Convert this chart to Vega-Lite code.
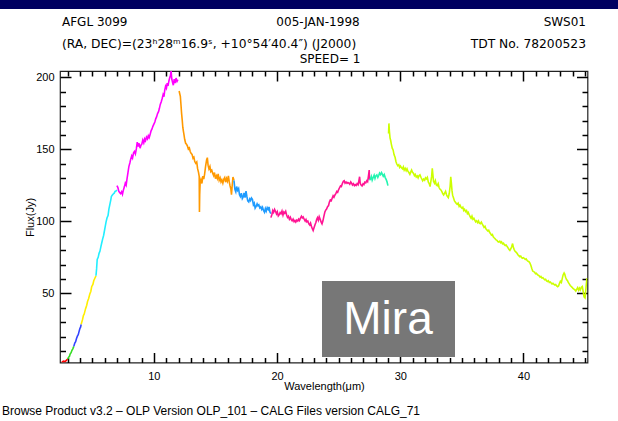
{
  "$schema": "https://vega.github.io/schema/vega-lite/v6.json",
  "width": 527.5,
  "height": 291.5,
  "autosize": "none",
  "padding": {"left": 60, "top": 71, "right": 30.5, "bottom": 58.5},
  "background": "white",
  "config": {
    "view": {"stroke": "#222222", "strokeWidth": 1.2},
    "axis": {
      "zindex": 1,
      "domain": false,
      "grid": false,
      "tickColor": "black",
      "tickWidth": 1.5,
      "labelColor": "black",
      "labelFont": "Liberation Sans",
      "labelFontSize": 11,
      "titleFont": "Liberation Sans",
      "titleFontSize": 11,
      "titleFontWeight": "normal",
      "titleColor": "black"
    },
    "text": {"font": "DejaVu Sans", "fill": "black"}
  },
  "datasets": {
    "sws": [
      {"wl": 2.52, "f": 2.1, "band": "1AB"}, {"wl": 2.65, "f": 2.9, "band": "1AB"}, {"wl": 2.8, "f": 2.6, "band": "1AB"}, {"wl": 2.9, "f": 3.6, "band": "1AB"}, {"wl": 3.0, "f": 4.4, "band": "1AB"},
      {"wl": 3.0, "f": 4.4, "band": "1D"}, {"wl": 3.08, "f": 5.6, "band": "1D"}, {"wl": 3.15, "f": 6.3, "band": "1D"}, {"wl": 3.2, "f": 7.8, "band": "1D"}, {"wl": 3.28, "f": 8.8, "band": "1D"}, {"wl": 3.35, "f": 10.5, "band": "1D"}, {"wl": 3.42, "f": 11.5, "band": "1D"}, {"wl": 3.5, "f": 13.2, "band": "1D"},
      {"wl": 3.5, "f": 13.2, "band": "1E"}, {"wl": 3.58, "f": 15.5, "band": "1E"}, {"wl": 3.65, "f": 16.4, "band": "1E"}, {"wl": 3.72, "f": 18.6, "band": "1E"}, {"wl": 3.8, "f": 20.5, "band": "1E"}, {"wl": 3.86, "f": 21.3, "band": "1E"}, {"wl": 3.93, "f": 23.6, "band": "1E"}, {"wl": 4.0, "f": 25.8, "band": "1E"}, {"wl": 4.05, "f": 26.5, "band": "1E"}, {"wl": 4.1, "f": 28.5, "band": "1E"},
      {"wl": 4.1, "f": 28.5, "band": "2A"}, {"wl": 4.2, "f": 31.5, "band": "2A"}, {"wl": 4.28, "f": 34.6, "band": "2A"}, {"wl": 4.35, "f": 35.8, "band": "2A"}, {"wl": 4.45, "f": 39.2, "band": "2A"}, {"wl": 4.55, "f": 41.8, "band": "2A"}, {"wl": 4.62, "f": 44.5, "band": "2A"}, {"wl": 4.7, "f": 46.3, "band": "2A"}, {"wl": 4.8, "f": 49.5, "band": "2A"}, {"wl": 4.88, "f": 51.3, "band": "2A"}, {"wl": 4.95, "f": 54.6, "band": "2A"}, {"wl": 5.05, "f": 56.2, "band": "2A"}, {"wl": 5.12, "f": 58.8, "band": "2A"}, {"wl": 5.2, "f": 60.3, "band": "2A"}, {"wl": 5.3, "f": 62.2, "band": "2A"},
      {"wl": 5.3, "f": 62.2, "band": "2B"}, {"wl": 5.35, "f": 67, "band": "2B"}, {"wl": 5.4, "f": 73.5, "band": "2B"}, {"wl": 5.48, "f": 75, "band": "2B"}, {"wl": 5.55, "f": 77.8, "band": "2B"}, {"wl": 5.62, "f": 79.2, "band": "2B"}, {"wl": 5.7, "f": 82.5, "band": "2B"}, {"wl": 5.78, "f": 85.5, "band": "2B"}, {"wl": 5.85, "f": 88, "band": "2B"}, {"wl": 5.92, "f": 90.2, "band": "2B"}, {"wl": 6.0, "f": 94, "band": "2B"}, {"wl": 6.05, "f": 96.3, "band": "2B"}, {"wl": 6.12, "f": 99.6, "band": "2B"}, {"wl": 6.2, "f": 102.5, "band": "2B"}, {"wl": 6.28, "f": 104, "band": "2B"}, {"wl": 6.35, "f": 108.5, "band": "2B"}, {"wl": 6.42, "f": 111.5, "band": "2B"}, {"wl": 6.5, "f": 114.8, "band": "2B"}, {"wl": 6.55, "f": 117.2, "band": "2B"}, {"wl": 6.62, "f": 118.2, "band": "2B"}, {"wl": 6.7, "f": 119, "band": "2B"}, {"wl": 6.78, "f": 119.6, "band": "2B"}, {"wl": 6.85, "f": 120.8, "band": "2B"}, {"wl": 6.92, "f": 121, "band": "2B"}, {"wl": 7.0, "f": 121.8, "band": "2B"},
      {"wl": 7.0, "f": 124.8, "band": "2C"}, {"wl": 7.08, "f": 123.5, "band": "2C"}, {"wl": 7.15, "f": 121, "band": "2C"}, {"wl": 7.22, "f": 120, "band": "2C"}, {"wl": 7.3, "f": 119.2, "band": "2C"}, {"wl": 7.38, "f": 120.5, "band": "2C"}, {"wl": 7.45, "f": 118.8, "band": "2C"}, {"wl": 7.52, "f": 121.5, "band": "2C"}, {"wl": 7.6, "f": 123.8, "band": "2C"}, {"wl": 7.68, "f": 126.5, "band": "2C"}, {"wl": 7.75, "f": 125.2, "band": "2C"}, {"wl": 7.82, "f": 129.5, "band": "2C"}, {"wl": 7.9, "f": 134, "band": "2C"}, {"wl": 7.97, "f": 138, "band": "2C"}, {"wl": 8.05, "f": 140.5, "band": "2C"}, {"wl": 8.12, "f": 143.2, "band": "2C"}, {"wl": 8.2, "f": 145.5, "band": "2C"}, {"wl": 8.27, "f": 144, "band": "2C"}, {"wl": 8.35, "f": 147.6, "band": "2C"}, {"wl": 8.42, "f": 148.5, "band": "2C"}, {"wl": 8.5, "f": 146.8, "band": "2C"}, {"wl": 8.58, "f": 150.5, "band": "2C"}, {"wl": 8.65, "f": 155, "band": "2C"}, {"wl": 8.72, "f": 152, "band": "2C"}, {"wl": 8.8, "f": 154.2, "band": "2C"}, {"wl": 8.88, "f": 150.8, "band": "2C"}, {"wl": 8.95, "f": 152.8, "band": "2C"}, {"wl": 9.02, "f": 153.6, "band": "2C"}, {"wl": 9.1, "f": 156.4, "band": "2C"}, {"wl": 9.18, "f": 154.5, "band": "2C"}, {"wl": 9.25, "f": 157.2, "band": "2C"}, {"wl": 9.32, "f": 156, "band": "2C"}, {"wl": 9.4, "f": 158.5, "band": "2C"}, {"wl": 9.48, "f": 157.3, "band": "2C"}, {"wl": 9.55, "f": 159.4, "band": "2C"}, {"wl": 9.62, "f": 158.2, "band": "2C"}, {"wl": 9.7, "f": 160.5, "band": "2C"}, {"wl": 9.78, "f": 163, "band": "2C"}, {"wl": 9.85, "f": 164.2, "band": "2C"}, {"wl": 9.92, "f": 166, "band": "2C"}, {"wl": 10.0, "f": 167.5, "band": "2C"}, {"wl": 10.08, "f": 169, "band": "2C"}, {"wl": 10.15, "f": 171.2, "band": "2C"}, {"wl": 10.22, "f": 172.5, "band": "2C"}, {"wl": 10.3, "f": 174.8, "band": "2C"}, {"wl": 10.38, "f": 176.2, "band": "2C"}, {"wl": 10.45, "f": 178.5, "band": "2C"}, {"wl": 10.52, "f": 181.2, "band": "2C"}, {"wl": 10.6, "f": 183, "band": "2C"}, {"wl": 10.68, "f": 185.5, "band": "2C"}, {"wl": 10.75, "f": 188, "band": "2C"}, {"wl": 10.82, "f": 186.5, "band": "2C"}, {"wl": 10.88, "f": 191, "band": "2C"}, {"wl": 10.95, "f": 193.8, "band": "2C"}, {"wl": 11.02, "f": 192.5, "band": "2C"}, {"wl": 11.08, "f": 196, "band": "2C"}, {"wl": 11.15, "f": 194, "band": "2C"}, {"wl": 11.22, "f": 197.5, "band": "2C"}, {"wl": 11.28, "f": 199.6, "band": "2C"}, {"wl": 11.35, "f": 201.5, "band": "2C"}, {"wl": 11.4, "f": 204.5, "band": "2C"}, {"wl": 11.45, "f": 199, "band": "2C"}, {"wl": 11.52, "f": 196.3, "band": "2C"}, {"wl": 11.58, "f": 194.5, "band": "2C"}, {"wl": 11.65, "f": 198.8, "band": "2C"}, {"wl": 11.72, "f": 196, "band": "2C"}, {"wl": 11.8, "f": 199.5, "band": "2C"}, {"wl": 11.88, "f": 197.2, "band": "2C"}, {"wl": 11.95, "f": 198.4, "band": "2C"},
      {"wl": 12.05, "f": 190.5, "band": "3A"}, {"wl": 12.1, "f": 188.6, "band": "3A"}, {"wl": 12.15, "f": 186.8, "band": "3A"}, {"wl": 12.2, "f": 181, "band": "3A"}, {"wl": 12.25, "f": 175, "band": "3A"}, {"wl": 12.3, "f": 170.5, "band": "3A"}, {"wl": 12.35, "f": 165.2, "band": "3A"}, {"wl": 12.4, "f": 162.5, "band": "3A"}, {"wl": 12.45, "f": 159.8, "band": "3A"}, {"wl": 12.5, "f": 157, "band": "3A"}, {"wl": 12.58, "f": 154.2, "band": "3A"}, {"wl": 12.65, "f": 153.5, "band": "3A"}, {"wl": 12.72, "f": 152.4, "band": "3A"}, {"wl": 12.8, "f": 150.2, "band": "3A"}, {"wl": 12.88, "f": 151, "band": "3A"}, {"wl": 12.95, "f": 148.5, "band": "3A"}, {"wl": 13.02, "f": 147.2, "band": "3A"}, {"wl": 13.1, "f": 146.5, "band": "3A"}, {"wl": 13.18, "f": 143.8, "band": "3A"}, {"wl": 13.25, "f": 144.5, "band": "3A"}, {"wl": 13.32, "f": 141.5, "band": "3A"}, {"wl": 13.4, "f": 140.3, "band": "3A"}, {"wl": 13.48, "f": 141.2, "band": "3A"}, {"wl": 13.55, "f": 136.6, "band": "3A"}, {"wl": 13.62, "f": 134.2, "band": "3A"}, {"wl": 13.68, "f": 131.2, "band": "3A"}, {"wl": 13.7, "f": 106.5, "band": "3A"}, {"wl": 13.72, "f": 118.5, "band": "3A"}, {"wl": 13.76, "f": 127.5, "band": "3A"}, {"wl": 13.82, "f": 129.2, "band": "3A"}, {"wl": 13.9, "f": 126.3, "band": "3A"}, {"wl": 13.98, "f": 131.5, "band": "3A"}, {"wl": 14.05, "f": 129.4, "band": "3A"}, {"wl": 14.12, "f": 132.8, "band": "3A"}, {"wl": 14.2, "f": 138.4, "band": "3A"}, {"wl": 14.28, "f": 142.6, "band": "3A"}, {"wl": 14.34, "f": 144.2, "band": "3A"}, {"wl": 14.4, "f": 139, "band": "3A"}, {"wl": 14.47, "f": 136.5, "band": "3A"}, {"wl": 14.55, "f": 138.2, "band": "3A"}, {"wl": 14.62, "f": 134.6, "band": "3A"}, {"wl": 14.7, "f": 135.5, "band": "3A"}, {"wl": 14.78, "f": 133.2, "band": "3A"}, {"wl": 14.85, "f": 131.8, "band": "3A"}, {"wl": 14.92, "f": 133.9, "band": "3A"}, {"wl": 15.0, "f": 129.6, "band": "3A"}, {"wl": 15.08, "f": 131.5, "band": "3A"}, {"wl": 15.15, "f": 129.8, "band": "3A"}, {"wl": 15.22, "f": 133, "band": "3A"}, {"wl": 15.3, "f": 128.5, "band": "3A"}, {"wl": 15.38, "f": 130.2, "band": "3A"}, {"wl": 15.45, "f": 127.4, "band": "3A"}, {"wl": 15.52, "f": 128.8, "band": "3A"}, {"wl": 15.6, "f": 126.5, "band": "3A"}, {"wl": 15.68, "f": 129.3, "band": "3A"}, {"wl": 15.75, "f": 130.4, "band": "3A"}, {"wl": 15.82, "f": 127.2, "band": "3A"}, {"wl": 15.9, "f": 129.8, "band": "3A"}, {"wl": 15.97, "f": 128, "band": "3A"}, {"wl": 16.05, "f": 131.6, "band": "3A"}, {"wl": 16.12, "f": 127.4, "band": "3A"}, {"wl": 16.18, "f": 124.8, "band": "3A"}, {"wl": 16.25, "f": 122.5, "band": "3A"}, {"wl": 16.3, "f": 118.6, "band": "3A"}, {"wl": 16.35, "f": 124, "band": "3A"}, {"wl": 16.42, "f": 130.8, "band": "3A"}, {"wl": 16.5, "f": 128.5, "band": "3A"},
      {"wl": 16.5, "f": 128.5, "band": "3C"}, {"wl": 16.58, "f": 122, "band": "3C"}, {"wl": 16.65, "f": 120.4, "band": "3C"}, {"wl": 16.72, "f": 124.2, "band": "3C"}, {"wl": 16.8, "f": 121.5, "band": "3C"}, {"wl": 16.88, "f": 122.8, "band": "3C"}, {"wl": 16.95, "f": 118.4, "band": "3C"}, {"wl": 17.02, "f": 117.2, "band": "3C"}, {"wl": 17.1, "f": 119.6, "band": "3C"}, {"wl": 17.18, "f": 115.8, "band": "3C"}, {"wl": 17.25, "f": 116.9, "band": "3C"}, {"wl": 17.32, "f": 119.8, "band": "3C"}, {"wl": 17.4, "f": 116.5, "band": "3C"}, {"wl": 17.48, "f": 121, "band": "3C"}, {"wl": 17.55, "f": 117.3, "band": "3C"}, {"wl": 17.62, "f": 114.2, "band": "3C"}, {"wl": 17.7, "f": 113.5, "band": "3C"}, {"wl": 17.78, "f": 115.6, "band": "3C"}, {"wl": 17.85, "f": 114.5, "band": "3C"}, {"wl": 17.92, "f": 116.2, "band": "3C"}, {"wl": 18.0, "f": 115.3, "band": "3C"}, {"wl": 18.08, "f": 111.5, "band": "3C"}, {"wl": 18.15, "f": 112.6, "band": "3C"}, {"wl": 18.22, "f": 109.2, "band": "3C"}, {"wl": 18.3, "f": 110.4, "band": "3C"}, {"wl": 18.38, "f": 112.2, "band": "3C"}, {"wl": 18.45, "f": 110.8, "band": "3C"}, {"wl": 18.52, "f": 111.5, "band": "3C"}, {"wl": 18.6, "f": 109.3, "band": "3C"}, {"wl": 18.68, "f": 110.1, "band": "3C"}, {"wl": 18.75, "f": 108.4, "band": "3C"}, {"wl": 18.82, "f": 109.8, "band": "3C"}, {"wl": 18.9, "f": 107.5, "band": "3C"}, {"wl": 18.98, "f": 106.3, "band": "3C"}, {"wl": 19.05, "f": 108.8, "band": "3C"}, {"wl": 19.12, "f": 107.1, "band": "3C"}, {"wl": 19.2, "f": 109.5, "band": "3C"}, {"wl": 19.28, "f": 108.2, "band": "3C"}, {"wl": 19.35, "f": 110, "band": "3C"}, {"wl": 19.42, "f": 106.5, "band": "3C"}, {"wl": 19.5, "f": 105.4, "band": "3C"},
      {"wl": 19.5, "f": 102.6, "band": "3D"}, {"wl": 19.58, "f": 104.8, "band": "3D"}, {"wl": 19.65, "f": 107.5, "band": "3D"}, {"wl": 19.72, "f": 106.2, "band": "3D"}, {"wl": 19.8, "f": 108.3, "band": "3D"}, {"wl": 19.88, "f": 106.8, "band": "3D"}, {"wl": 19.95, "f": 105.2, "band": "3D"}, {"wl": 20.02, "f": 106.6, "band": "3D"}, {"wl": 20.1, "f": 103.8, "band": "3D"}, {"wl": 20.18, "f": 104.7, "band": "3D"}, {"wl": 20.25, "f": 106.1, "band": "3D"}, {"wl": 20.32, "f": 105.3, "band": "3D"}, {"wl": 20.4, "f": 107.2, "band": "3D"}, {"wl": 20.48, "f": 104.4, "band": "3D"}, {"wl": 20.55, "f": 106.5, "band": "3D"}, {"wl": 20.62, "f": 105.7, "band": "3D"}, {"wl": 20.7, "f": 107, "band": "3D"}, {"wl": 20.78, "f": 104.2, "band": "3D"}, {"wl": 20.85, "f": 102.8, "band": "3D"}, {"wl": 20.92, "f": 103.6, "band": "3D"}, {"wl": 21.0, "f": 101.5, "band": "3D"}, {"wl": 21.08, "f": 102.8, "band": "3D"}, {"wl": 21.15, "f": 101.2, "band": "3D"}, {"wl": 21.22, "f": 100.4, "band": "3D"}, {"wl": 21.3, "f": 101.6, "band": "3D"}, {"wl": 21.38, "f": 99.8, "band": "3D"}, {"wl": 21.45, "f": 100.6, "band": "3D"}, {"wl": 21.52, "f": 99.5, "band": "3D"}, {"wl": 21.6, "f": 100.9, "band": "3D"}, {"wl": 21.68, "f": 100.2, "band": "3D"}, {"wl": 21.75, "f": 101.5, "band": "3D"}, {"wl": 21.82, "f": 100.6, "band": "3D"}, {"wl": 21.9, "f": 102.2, "band": "3D"}, {"wl": 21.98, "f": 103.5, "band": "3D"}, {"wl": 22.05, "f": 102.4, "band": "3D"}, {"wl": 22.12, "f": 103.1, "band": "3D"}, {"wl": 22.2, "f": 101.5, "band": "3D"}, {"wl": 22.28, "f": 100.2, "band": "3D"}, {"wl": 22.35, "f": 101.3, "band": "3D"}, {"wl": 22.42, "f": 99.6, "band": "3D"}, {"wl": 22.5, "f": 100.2, "band": "3D"}, {"wl": 22.58, "f": 98.2, "band": "3D"}, {"wl": 22.65, "f": 97.5, "band": "3D"}, {"wl": 22.72, "f": 98.8, "band": "3D"}, {"wl": 22.8, "f": 96.2, "band": "3D"}, {"wl": 22.88, "f": 94.5, "band": "3D"}, {"wl": 22.93, "f": 93.6, "band": "3D"}, {"wl": 23.0, "f": 95.5, "band": "3D"}, {"wl": 23.08, "f": 97.6, "band": "3D"}, {"wl": 23.15, "f": 99.2, "band": "3D"}, {"wl": 23.22, "f": 101.5, "band": "3D"}, {"wl": 23.28, "f": 102.6, "band": "3D"}, {"wl": 23.35, "f": 100.8, "band": "3D"}, {"wl": 23.42, "f": 103.2, "band": "3D"}, {"wl": 23.5, "f": 101.4, "band": "3D"}, {"wl": 23.58, "f": 99.5, "band": "3D"}, {"wl": 23.65, "f": 98.3, "band": "3D"}, {"wl": 23.72, "f": 100.2, "band": "3D"}, {"wl": 23.8, "f": 103.5, "band": "3D"}, {"wl": 23.88, "f": 106.5, "band": "3D"}, {"wl": 23.95, "f": 107.8, "band": "3D"}, {"wl": 24.02, "f": 108.6, "band": "3D"}, {"wl": 24.1, "f": 110.2, "band": "3D"}, {"wl": 24.18, "f": 111, "band": "3D"}, {"wl": 24.25, "f": 113.5, "band": "3D"}, {"wl": 24.32, "f": 114.8, "band": "3D"}, {"wl": 24.4, "f": 114.3, "band": "3D"}, {"wl": 24.48, "f": 116.2, "band": "3D"}, {"wl": 24.55, "f": 117.8, "band": "3D"}, {"wl": 24.62, "f": 116.8, "band": "3D"}, {"wl": 24.7, "f": 118.3, "band": "3D"}, {"wl": 24.78, "f": 119.4, "band": "3D"}, {"wl": 24.85, "f": 120.8, "band": "3D"}, {"wl": 24.92, "f": 120.2, "band": "3D"}, {"wl": 25.0, "f": 122.1, "band": "3D"}, {"wl": 25.08, "f": 123.5, "band": "3D"}, {"wl": 25.15, "f": 124.6, "band": "3D"}, {"wl": 25.22, "f": 124.2, "band": "3D"}, {"wl": 25.3, "f": 126.3, "band": "3D"}, {"wl": 25.38, "f": 127.8, "band": "3D"}, {"wl": 25.45, "f": 128.2, "band": "3D"}, {"wl": 25.52, "f": 126.5, "band": "3D"}, {"wl": 25.6, "f": 127.3, "band": "3D"}, {"wl": 25.68, "f": 126.4, "band": "3D"}, {"wl": 25.75, "f": 127, "band": "3D"}, {"wl": 25.82, "f": 126.6, "band": "3D"}, {"wl": 25.9, "f": 125.8, "band": "3D"}, {"wl": 25.98, "f": 127.4, "band": "3D"}, {"wl": 26.05, "f": 126.5, "band": "3D"}, {"wl": 26.12, "f": 125.2, "band": "3D"}, {"wl": 26.2, "f": 126.1, "band": "3D"}, {"wl": 26.28, "f": 124.8, "band": "3D"}, {"wl": 26.35, "f": 125.5, "band": "3D"}, {"wl": 26.42, "f": 124.9, "band": "3D"}, {"wl": 26.5, "f": 126.2, "band": "3D"}, {"wl": 26.58, "f": 125.4, "band": "3D"}, {"wl": 26.65, "f": 128.6, "band": "3D"}, {"wl": 26.7, "f": 131, "band": "3D"}, {"wl": 26.75, "f": 126.4, "band": "3D"}, {"wl": 26.82, "f": 125.2, "band": "3D"}, {"wl": 26.9, "f": 124.6, "band": "3D"}, {"wl": 26.98, "f": 126.1, "band": "3D"}, {"wl": 27.05, "f": 125.5, "band": "3D"}, {"wl": 27.12, "f": 127.2, "band": "3D"}, {"wl": 27.2, "f": 126.8, "band": "3D"}, {"wl": 27.28, "f": 128.2, "band": "3D"}, {"wl": 27.35, "f": 127.5, "band": "3D"}, {"wl": 27.42, "f": 131.6, "band": "3D"}, {"wl": 27.48, "f": 135.6, "band": "3D"}, {"wl": 27.5, "f": 129, "band": "3D"},
      {"wl": 27.5, "f": 128.5, "band": "3E"}, {"wl": 27.58, "f": 129.4, "band": "3E"}, {"wl": 27.65, "f": 131.2, "band": "3E"}, {"wl": 27.72, "f": 128.6, "band": "3E"}, {"wl": 27.8, "f": 130.5, "band": "3E"}, {"wl": 27.88, "f": 132.1, "band": "3E"}, {"wl": 27.95, "f": 129.8, "band": "3E"}, {"wl": 28.02, "f": 131.6, "band": "3E"}, {"wl": 28.1, "f": 132.3, "band": "3E"}, {"wl": 28.18, "f": 130.5, "band": "3E"}, {"wl": 28.25, "f": 131.8, "band": "3E"}, {"wl": 28.32, "f": 133.5, "band": "3E"}, {"wl": 28.4, "f": 132.4, "band": "3E"}, {"wl": 28.48, "f": 133.8, "band": "3E"}, {"wl": 28.55, "f": 132.6, "band": "3E"}, {"wl": 28.62, "f": 131.3, "band": "3E"}, {"wl": 28.7, "f": 132.5, "band": "3E"}, {"wl": 28.78, "f": 130.4, "band": "3E"}, {"wl": 28.85, "f": 129.2, "band": "3E"}, {"wl": 28.92, "f": 127.6, "band": "3E"}, {"wl": 29.0, "f": 124.8, "band": "3E"},
      {"wl": 29.05, "f": 161, "band": "4"}, {"wl": 29.08, "f": 168, "band": "4"}, {"wl": 29.12, "f": 162.5, "band": "4"}, {"wl": 29.17, "f": 158, "band": "4"}, {"wl": 29.22, "f": 156.3, "band": "4"}, {"wl": 29.28, "f": 153.5, "band": "4"}, {"wl": 29.35, "f": 150.8, "band": "4"}, {"wl": 29.42, "f": 149.6, "band": "4"}, {"wl": 29.5, "f": 146.2, "band": "4"}, {"wl": 29.58, "f": 144.5, "band": "4"}, {"wl": 29.65, "f": 141.6, "band": "4"}, {"wl": 29.72, "f": 139.8, "band": "4"}, {"wl": 29.8, "f": 138.6, "band": "4"}, {"wl": 29.88, "f": 139.3, "band": "4"}, {"wl": 29.95, "f": 137.5, "band": "4"}, {"wl": 30.02, "f": 138.4, "band": "4"}, {"wl": 30.1, "f": 137.2, "band": "4"}, {"wl": 30.18, "f": 136.5, "band": "4"}, {"wl": 30.25, "f": 137.8, "band": "4"}, {"wl": 30.32, "f": 135.6, "band": "4"}, {"wl": 30.4, "f": 136.8, "band": "4"}, {"wl": 30.48, "f": 135.2, "band": "4"}, {"wl": 30.55, "f": 136.5, "band": "4"}, {"wl": 30.62, "f": 134.8, "band": "4"}, {"wl": 30.7, "f": 133.9, "band": "4"}, {"wl": 30.78, "f": 132.6, "band": "4"}, {"wl": 30.85, "f": 134.2, "band": "4"}, {"wl": 30.92, "f": 135.6, "band": "4"}, {"wl": 31.0, "f": 134, "band": "4"}, {"wl": 31.08, "f": 133.2, "band": "4"}, {"wl": 31.15, "f": 131.8, "band": "4"}, {"wl": 31.22, "f": 132.6, "band": "4"}, {"wl": 31.3, "f": 130.8, "band": "4"}, {"wl": 31.38, "f": 131.5, "band": "4"}, {"wl": 31.45, "f": 130.2, "band": "4"}, {"wl": 31.52, "f": 131.7, "band": "4"}, {"wl": 31.6, "f": 132.3, "band": "4"}, {"wl": 31.68, "f": 130.6, "band": "4"}, {"wl": 31.75, "f": 129.4, "band": "4"}, {"wl": 31.82, "f": 128.2, "band": "4"}, {"wl": 31.9, "f": 129.3, "band": "4"}, {"wl": 31.98, "f": 128.6, "band": "4"}, {"wl": 32.05, "f": 130.2, "band": "4"}, {"wl": 32.12, "f": 129.5, "band": "4"}, {"wl": 32.2, "f": 130.6, "band": "4"}, {"wl": 32.28, "f": 127.2, "band": "4"}, {"wl": 32.35, "f": 126.3, "band": "4"}, {"wl": 32.42, "f": 124.2, "band": "4"}, {"wl": 32.48, "f": 127.5, "band": "4"}, {"wl": 32.55, "f": 131.4, "band": "4"}, {"wl": 32.6, "f": 136.8, "band": "4"}, {"wl": 32.65, "f": 132.4, "band": "4"}, {"wl": 32.7, "f": 127.8, "band": "4"}, {"wl": 32.78, "f": 126.5, "band": "4"}, {"wl": 32.85, "f": 128.2, "band": "4"}, {"wl": 32.92, "f": 125.4, "band": "4"}, {"wl": 33.0, "f": 124.8, "band": "4"}, {"wl": 33.08, "f": 126.2, "band": "4"}, {"wl": 33.15, "f": 123.5, "band": "4"}, {"wl": 33.22, "f": 122.4, "band": "4"}, {"wl": 33.3, "f": 121.8, "band": "4"}, {"wl": 33.38, "f": 120.6, "band": "4"}, {"wl": 33.45, "f": 119.2, "band": "4"}, {"wl": 33.52, "f": 118.3, "band": "4"}, {"wl": 33.6, "f": 119.6, "band": "4"}, {"wl": 33.68, "f": 120.8, "band": "4"}, {"wl": 33.75, "f": 118.6, "band": "4"}, {"wl": 33.82, "f": 117.4, "band": "4"}, {"wl": 33.9, "f": 116.5, "band": "4"}, {"wl": 33.98, "f": 119.5, "band": "4"}, {"wl": 34.05, "f": 124.5, "band": "4"}, {"wl": 34.1, "f": 131, "band": "4"}, {"wl": 34.15, "f": 126.6, "band": "4"}, {"wl": 34.2, "f": 121.5, "band": "4"}, {"wl": 34.25, "f": 118.2, "band": "4"}, {"wl": 34.32, "f": 116.4, "band": "4"}, {"wl": 34.4, "f": 114.2, "band": "4"}, {"wl": 34.48, "f": 113.3, "band": "4"}, {"wl": 34.55, "f": 112.4, "band": "4"}, {"wl": 34.62, "f": 111.8, "band": "4"}, {"wl": 34.7, "f": 112.6, "band": "4"}, {"wl": 34.78, "f": 110.4, "band": "4"}, {"wl": 34.85, "f": 111.3, "band": "4"}, {"wl": 34.92, "f": 110, "band": "4"}, {"wl": 35.0, "f": 109.2, "band": "4"}, {"wl": 35.08, "f": 109.8, "band": "4"}, {"wl": 35.15, "f": 107.6, "band": "4"}, {"wl": 35.22, "f": 108.4, "band": "4"}, {"wl": 35.3, "f": 106.8, "band": "4"}, {"wl": 35.38, "f": 107.5, "band": "4"}, {"wl": 35.45, "f": 105.4, "band": "4"}, {"wl": 35.52, "f": 106.2, "band": "4"}, {"wl": 35.6, "f": 104.6, "band": "4"}, {"wl": 35.68, "f": 103.2, "band": "4"}, {"wl": 35.75, "f": 102.2, "band": "4"}, {"wl": 35.82, "f": 103.6, "band": "4"}, {"wl": 35.9, "f": 101.4, "band": "4"}, {"wl": 35.98, "f": 102.1, "band": "4"}, {"wl": 36.05, "f": 100.8, "band": "4"}, {"wl": 36.12, "f": 99.6, "band": "4"}, {"wl": 36.2, "f": 100.4, "band": "4"}, {"wl": 36.28, "f": 99.2, "band": "4"}, {"wl": 36.35, "f": 100.3, "band": "4"}, {"wl": 36.42, "f": 98.8, "band": "4"}, {"wl": 36.5, "f": 98.4, "band": "4"}, {"wl": 36.58, "f": 99.5, "band": "4"}, {"wl": 36.65, "f": 98.2, "band": "4"}, {"wl": 36.72, "f": 97.2, "band": "4"}, {"wl": 36.8, "f": 95.8, "band": "4"}, {"wl": 36.88, "f": 96.6, "band": "4"}, {"wl": 36.95, "f": 94.8, "band": "4"}, {"wl": 37.02, "f": 94.2, "band": "4"}, {"wl": 37.1, "f": 93.4, "band": "4"}, {"wl": 37.18, "f": 93.9, "band": "4"}, {"wl": 37.25, "f": 92.4, "band": "4"}, {"wl": 37.32, "f": 91.6, "band": "4"}, {"wl": 37.4, "f": 90.4, "band": "4"}, {"wl": 37.48, "f": 90.9, "band": "4"}, {"wl": 37.55, "f": 89.3, "band": "4"}, {"wl": 37.62, "f": 88.6, "band": "4"}, {"wl": 37.7, "f": 87.9, "band": "4"}, {"wl": 37.78, "f": 87.1, "band": "4"}, {"wl": 37.85, "f": 86.8, "band": "4"}, {"wl": 37.92, "f": 86, "band": "4"}, {"wl": 38.0, "f": 85.6, "band": "4"}, {"wl": 38.08, "f": 86.2, "band": "4"}, {"wl": 38.15, "f": 85.2, "band": "4"}, {"wl": 38.22, "f": 85.8, "band": "4"}, {"wl": 38.3, "f": 84.4, "band": "4"}, {"wl": 38.38, "f": 84.9, "band": "4"}, {"wl": 38.45, "f": 83.8, "band": "4"}, {"wl": 38.52, "f": 83.2, "band": "4"}, {"wl": 38.6, "f": 83.6, "band": "4"}, {"wl": 38.68, "f": 82.5, "band": "4"}, {"wl": 38.75, "f": 81.6, "band": "4"}, {"wl": 38.82, "f": 80.6, "band": "4"}, {"wl": 38.9, "f": 79.8, "band": "4"}, {"wl": 38.98, "f": 81, "band": "4"}, {"wl": 39.05, "f": 82.6, "band": "4"}, {"wl": 39.12, "f": 84.6, "band": "4"}, {"wl": 39.18, "f": 82, "band": "4"}, {"wl": 39.25, "f": 80.4, "band": "4"}, {"wl": 39.32, "f": 79.2, "band": "4"}, {"wl": 39.4, "f": 78.6, "band": "4"}, {"wl": 39.48, "f": 77.8, "band": "4"}, {"wl": 39.55, "f": 76.8, "band": "4"}, {"wl": 39.62, "f": 76.2, "band": "4"}, {"wl": 39.7, "f": 75.5, "band": "4"}, {"wl": 39.78, "f": 75.9, "band": "4"}, {"wl": 39.85, "f": 74.8, "band": "4"}, {"wl": 39.92, "f": 74.4, "band": "4"}, {"wl": 40.0, "f": 74.8, "band": "4"}, {"wl": 40.08, "f": 74.2, "band": "4"}, {"wl": 40.15, "f": 73.5, "band": "4"}, {"wl": 40.22, "f": 73.9, "band": "4"}, {"wl": 40.3, "f": 72.8, "band": "4"}, {"wl": 40.38, "f": 72.3, "band": "4"}, {"wl": 40.45, "f": 72, "band": "4"}, {"wl": 40.52, "f": 71.2, "band": "4"}, {"wl": 40.6, "f": 69.5, "band": "4"}, {"wl": 40.68, "f": 67.2, "band": "4"}, {"wl": 40.75, "f": 65.5, "band": "4"}, {"wl": 40.82, "f": 65.1, "band": "4"}, {"wl": 40.9, "f": 64.8, "band": "4"}, {"wl": 40.98, "f": 63.6, "band": "4"}, {"wl": 41.05, "f": 63.9, "band": "4"}, {"wl": 41.12, "f": 63.1, "band": "4"}, {"wl": 41.2, "f": 62.6, "band": "4"}, {"wl": 41.28, "f": 62.2, "band": "4"}, {"wl": 41.35, "f": 61.3, "band": "4"}, {"wl": 41.42, "f": 61.8, "band": "4"}, {"wl": 41.5, "f": 60.6, "band": "4"}, {"wl": 41.58, "f": 60.9, "band": "4"}, {"wl": 41.65, "f": 60.1, "band": "4"}, {"wl": 41.72, "f": 59.5, "band": "4"}, {"wl": 41.8, "f": 59.8, "band": "4"}, {"wl": 41.88, "f": 58.6, "band": "4"}, {"wl": 41.95, "f": 58.2, "band": "4"}, {"wl": 42.02, "f": 58.8, "band": "4"}, {"wl": 42.1, "f": 57.6, "band": "4"}, {"wl": 42.18, "f": 57.9, "band": "4"}, {"wl": 42.25, "f": 57.2, "band": "4"}, {"wl": 42.32, "f": 56.5, "band": "4"}, {"wl": 42.4, "f": 57, "band": "4"}, {"wl": 42.48, "f": 56.2, "band": "4"}, {"wl": 42.55, "f": 55.8, "band": "4"}, {"wl": 42.62, "f": 56.1, "band": "4"}, {"wl": 42.7, "f": 55.2, "band": "4"}, {"wl": 42.78, "f": 54.6, "band": "4"}, {"wl": 42.85, "f": 55.1, "band": "4"}, {"wl": 42.92, "f": 56.8, "band": "4"}, {"wl": 43.0, "f": 58.4, "band": "4"}, {"wl": 43.08, "f": 57.6, "band": "4"}, {"wl": 43.15, "f": 60.2, "band": "4"}, {"wl": 43.22, "f": 62.8, "band": "4"}, {"wl": 43.3, "f": 64.2, "band": "4"}, {"wl": 43.35, "f": 63.4, "band": "4"}, {"wl": 43.42, "f": 61.2, "band": "4"}, {"wl": 43.5, "f": 59.6, "band": "4"}, {"wl": 43.58, "f": 58.8, "band": "4"}, {"wl": 43.65, "f": 57.4, "band": "4"}, {"wl": 43.72, "f": 56.6, "band": "4"}, {"wl": 43.8, "f": 55.5, "band": "4"}, {"wl": 43.88, "f": 54.8, "band": "4"}, {"wl": 43.95, "f": 54.2, "band": "4"}, {"wl": 44.02, "f": 53.5, "band": "4"}, {"wl": 44.1, "f": 52.9, "band": "4"}, {"wl": 44.18, "f": 52.4, "band": "4"}, {"wl": 44.25, "f": 51.6, "band": "4"}, {"wl": 44.32, "f": 52.8, "band": "4"}, {"wl": 44.4, "f": 54, "band": "4"}, {"wl": 44.48, "f": 52.2, "band": "4"}, {"wl": 44.55, "f": 53.6, "band": "4"}, {"wl": 44.62, "f": 52.4, "band": "4"}, {"wl": 44.7, "f": 54.2, "band": "4"}, {"wl": 44.78, "f": 54.8, "band": "4"}, {"wl": 44.85, "f": 51.2, "band": "4"}, {"wl": 44.92, "f": 47.5, "band": "4"}, {"wl": 45.0, "f": 46.8, "band": "4"}, {"wl": 45.08, "f": 54.2, "band": "4"}, {"wl": 45.15, "f": 60.5, "band": "4"}
    ]
  },
  "layer": [
    {
      "data": {"name": "sws"},
      "mark": {"type": "line", "strokeWidth": 1.6, "clip": true, "interpolate": "linear"},
      "encoding": {
        "x": {
          "field": "wl", "type": "quantitative",
          "scale": {"domain": [2.38, 45.2], "nice": false, "zero": false},
          "axis": {
            "orient": "bottom",
            "title": "Wavelength(\u03bcm)",
            "values": [10, 20, 30, 40],
            "tickSize": -10,
            "labelPadding": 18,
            "labelFlush": false,
            "labelOverlap": false,
            "titleX": 264,
            "titleY": 24,
            "titleBaseline": "middle",
            "titleAlign": "center"
          }
        },
        "y": {
          "field": "f", "type": "quantitative",
          "scale": {"domain": [2, 204.4], "nice": false, "zero": false},
          "axis": {
            "orient": "left",
            "title": "Flux(Jy)",
            "values": [50, 100, 150, 200],
            "tickSize": -11,
            "labelPadding": 17,
            "labelOverlap": false,
            "labelFlush": false,
            "titleX": -30,
            "titleY": 146,
            "titleBaseline": "middle",
            "titleAlign": "center"
          }
        },
        "color": {
          "field": "band", "type": "nominal",
          "scale": {
            "domain": ["1AB", "1D", "1E", "2A", "2B", "2C", "3A", "3C", "3D", "3E", "4"],
            "range": ["#ff0000", "#33dd22", "#3344ff", "#ffee00", "#22eeff", "#ff00ff", "#ff9900", "#1e9bff", "#ff1493", "#22f5b0", "#ccff00"]
          },
          "legend": null
        }
      }
    },
    {
      "data": {"name": "sws"},
      "mark": {"type": "point", "opacity": 0},
      "encoding": {
        "x": {
          "field": "wl", "type": "quantitative",
          "axis": {
            "orient": "bottom", "title": null, "labels": false, "tickSize": -5,
            "values": [3,4,5,6,7,8,9,11,12,13,14,15,16,17,18,19,21,22,23,24,25,26,27,28,29,31,32,33,34,35,36,37,38,39,41,42,43,44,45]
          }
        },
        "y": {
          "field": "f", "type": "quantitative",
          "axis": {
            "orient": "left", "title": null, "labels": false, "tickSize": -5.5,
            "values": [10,20,30,40,60,70,80,90,110,120,130,140,160,170,180,190]
          }
        }
      }
    },
    {
      "data": {"name": "sws"},
      "mark": {"type": "point", "opacity": 0},
      "encoding": {
        "x": {
          "field": "wl", "type": "quantitative",
          "axis": {"orient": "top", "title": null, "labels": false, "tickSize": -10, "values": [10, 20, 30, 40]}
        },
        "y": {
          "field": "f", "type": "quantitative",
          "axis": {"orient": "right", "title": null, "labels": false, "tickSize": -11, "values": [50, 100, 150, 200]}
        }
      }
    },
    {
      "data": {"name": "sws"},
      "mark": {"type": "point", "opacity": 0},
      "encoding": {
        "x": {
          "field": "wl", "type": "quantitative",
          "axis": {
            "orient": "top", "title": null, "labels": false, "tickSize": -5,
            "values": [3,4,5,6,7,8,9,11,12,13,14,15,16,17,18,19,21,22,23,24,25,26,27,28,29,31,32,33,34,35,36,37,38,39,41,42,43,44,45]
          }
        },
        "y": {
          "field": "f", "type": "quantitative",
          "axis": {
            "orient": "right", "title": null, "labels": false, "tickSize": -5.5,
            "values": [10,20,30,40,60,70,80,90,110,120,130,140,160,170,180,190]
          }
        }
      }
    },
    {
      "data": {"values": [{}]},
      "mark": {"type": "rect", "x": -60, "x2": 558, "y": -71, "y2": -62, "fill": "#000060"}
    },
    {
      "data": {"values": [{}]},
      "mark": {"type": "rect", "x": 262, "x2": 395, "y": 210, "y2": 286, "fill": "#777777"}
    },
    {
      "data": {"values": [{}]},
      "mark": {"type": "text", "text": "Mira", "x": 328, "y": 249, "align": "center", "baseline": "middle", "fontSize": 46, "fill": "white", "font": "Liberation Sans"}
    },
    {
      "data": {"values": [{}]},
      "mark": {"type": "text", "text": "AFGL 3099", "x": 2, "y": -49, "align": "left", "baseline": "middle", "fontSize": 12}
    },
    {
      "data": {"values": [{}]},
      "mark": {"type": "text", "text": "005-JAN-1998", "x": 258, "y": -49, "align": "center", "baseline": "middle", "fontSize": 12}
    },
    {
      "data": {"values": [{}]},
      "mark": {"type": "text", "text": "SWS01", "x": 526, "y": -49, "align": "right", "baseline": "middle", "fontSize": 12}
    },
    {
      "data": {"values": [{}]},
      "mark": {"type": "text", "text": "(RA, DEC)=(23\u02b028\u1d5016.9\u02e2, +10\u00b054\u203240.4\u2033) (J2000)", "x": 2, "y": -27, "align": "left", "baseline": "middle", "fontSize": 12.3}
    },
    {
      "data": {"values": [{}]},
      "mark": {"type": "text", "text": "TDT No. 78200523", "x": 526, "y": -27, "align": "right", "baseline": "middle", "fontSize": 12.3}
    },
    {
      "data": {"values": [{}]},
      "mark": {"type": "text", "text": "SPEED= 1", "x": 270, "y": -12, "align": "center", "baseline": "middle", "fontSize": 12}
    },
    {
      "data": {"values": [{}]},
      "mark": {"type": "text", "text": "Browse Product v3.2 \u2013 OLP Version OLP_101  \u2013 CALG Files version CALG_71", "x": -58, "y": 340, "align": "left", "baseline": "middle", "fontSize": 12, "font": "Liberation Sans"}
    }
  ],
  "resolve": {"axis": {"x": "independent", "y": "independent"}}
}
